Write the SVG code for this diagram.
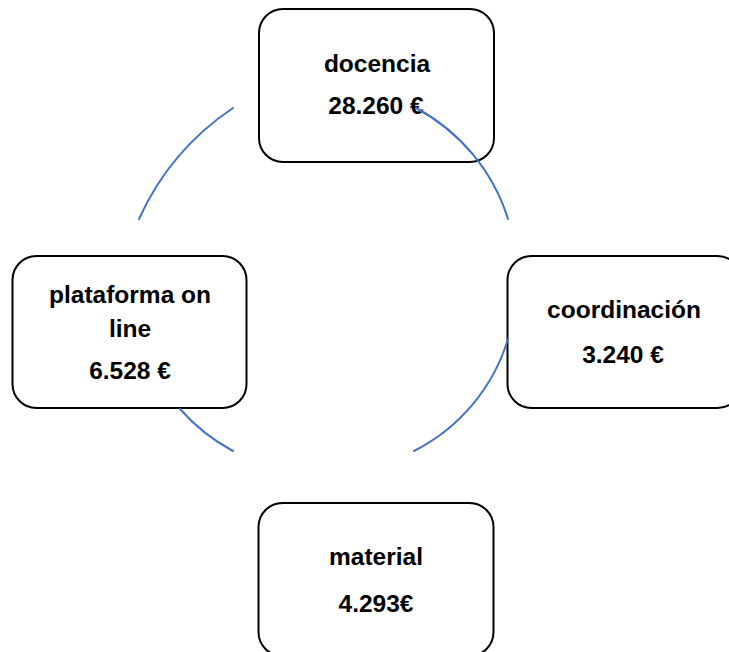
<svg xmlns="http://www.w3.org/2000/svg" width="729" height="652" viewBox="0 0 729 652">
  <style>
    .box { fill: #ffffff; stroke: #000000; stroke-width: 2; }
    .lbl { font-family: "Liberation Sans", Arial, sans-serif; font-weight: bold; font-size: 24.5px; fill: #000000; text-anchor: middle; }
    .arc { fill: none; stroke: #4472C4; stroke-width: 2; stroke-linecap: round; }
  </style>
  <rect width="729" height="652" fill="#ffffff"/>
  <g id="docencia">
    <rect class="box" x="259" y="9" width="235" height="153" rx="24" ry="24"/>
    <text class="lbl" x="377" y="72">docencia</text>
    <text class="lbl" x="376" y="114">28.260 €</text>
  </g>
  <g id="coordinacion">
    <rect class="box" x="507.5" y="256" width="234" height="152" rx="24" ry="24"/>
    <text class="lbl" x="624" y="318">coordinación</text>
    <text class="lbl" x="623" y="363">3.240 €</text>
  </g>
  <g id="material">
    <rect class="box" x="258.5" y="503" width="235" height="153" rx="24" ry="24"/>
    <text class="lbl" x="376" y="565">material</text>
    <text class="lbl" x="376" y="612">4.293€</text>
  </g>
  <g id="plataforma">
    <rect class="box" x="12.5" y="256" width="234" height="152" rx="24" ry="24"/>
    <text class="lbl" x="130" y="303">plataforma on</text>
    <text class="lbl" x="130" y="337">line</text>
    <text class="lbl" x="130" y="379">6.528 €</text>
  </g>
  <g id="connectors">
    <path class="arc" d="M 233,108 A 265 265 0 0 0 139,219"/>
    <path class="arc" d="M 416,108 A 191 191 0 0 1 508,219"/>
    <path class="arc" d="M 508,339 A 186 186 0 0 1 414,451"/>
    <path class="arc" d="M 233,451 A 190 190 0 0 1 180,409"/>
  </g>
</svg>
